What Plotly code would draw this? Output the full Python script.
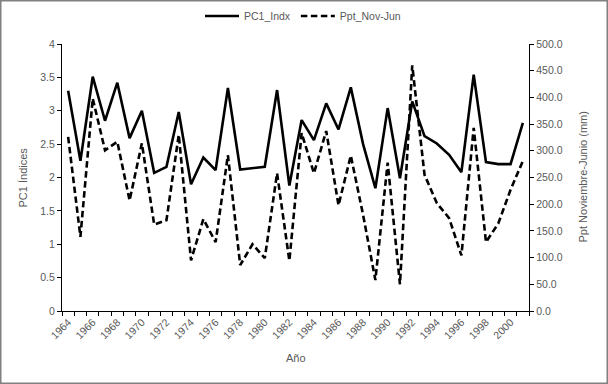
import plotly.graph_objects as go

years = list(range(1964, 2002))
pc1_indx = [3.30, 2.25, 3.51, 2.85, 3.42, 2.59, 3.00, 2.07, 2.16, 2.98,
            1.90, 2.30, 2.11, 3.34, 2.12, 2.14, 2.16, 3.31, 1.88, 2.86,
            2.56, 3.11, 2.72, 3.35, 2.50, 1.84, 3.04, 1.99, 3.14, 2.62,
            2.51, 2.34, 2.08, 3.54, 2.23, 2.20, 2.20, 2.82]
ppt_nov_jun = [326, 139, 398, 301, 317, 207, 314, 162, 170, 330,
               95, 172, 129, 292, 86, 125, 99, 258, 94, 333,
               258, 337, 198, 291, 180, 58, 278, 50, 460, 255,
               202, 174, 104, 343, 129, 164, 227, 281]
x_ticks = list(range(1964, 2001, 2))
left_ticks = [0, 0.5, 1, 1.5, 2, 2.5, 3, 3.5, 4]
right_ticks = [0, 50, 100, 150, 200, 250, 300, 350, 400, 450, 500]

W, H = 608, 384
L, R, T, B = 62, 529, 44, 311
pw, ph = R - L, B - T

def px(x):
    return (x - L) / pw

def py(y):
    return (B - y) / ph

gray = "#595959"
font = "Liberation Sans, Arial, sans-serif"

fig = go.Figure()
fig.add_trace(go.Scatter(x=years, y=pc1_indx, name="PC1_Indx", mode="lines",
                         line=dict(color="black", width=2.6), yaxis="y"))
fig.add_trace(go.Scatter(x=years, y=ppt_nov_jun, name="Ppt_Nov-Jun", mode="lines",
                         line=dict(color="black", width=2.6, dash="6.5px,3.5px"), yaxis="y2"))

fig.update_layout(
    template="none",
    width=W, height=H,
    margin=dict(l=L, r=W - R, t=T, b=H - B, pad=0, autoexpand=False),
    paper_bgcolor="white", plot_bgcolor="white",
    font=dict(family=font, color=gray, size=10.5),
    showlegend=True,
    legend=dict(orientation="h", xref="container", yref="container",
                x=303 / W, xanchor="center", y=1 - 16 / H, yanchor="middle",
                font=dict(size=10.5, color=gray), itemwidth=34, bgcolor="rgba(0,0,0,0)"),
    xaxis=dict(range=[1963.5, 2001.5], tickmode="array", tickvals=x_ticks,
               ticktext=[str(v) for v in x_ticks], tickangle=-45, ticks="",
               showline=True, linecolor="black", linewidth=1.3, showgrid=False,
               zeroline=False, automargin=False, tickfont=dict(size=10.5, color=gray),
               minor=dict(tickmode="array", tickvals=[y - 0.5 for y in range(1964, 2003)],
                          ticks="outside", ticklen=4, tickcolor="black", tickwidth=1.3,
                          showgrid=False)),
    yaxis=dict(range=[0, 4], tickmode="array", tickvals=left_ticks,
               ticktext=[("%g" % v) for v in left_ticks],
               ticks="outside", ticklen=4, tickcolor="black", tickwidth=1.3,
               showline=True, linecolor="black", linewidth=1.3, showgrid=False,
               zeroline=False, automargin=False, tickfont=dict(size=10.5, color=gray)),
    yaxis2=dict(range=[0, 500], tickmode="array", tickvals=right_ticks,
                ticktext=["%.1f" % v for v in right_ticks],
                overlaying="y", side="right", anchor="x",
                ticks="outside", ticklen=4, tickcolor="black", tickwidth=1.3,
                showline=True, linecolor="black", linewidth=1.3, showgrid=False,
                zeroline=False, automargin=False, tickfont=dict(size=10.5, color=gray)),
    annotations=[
        dict(text="PC1 Índices", xref="paper", yref="paper", x=px(22), y=0.5,
             textangle=-90, showarrow=False, font=dict(size=11, color=gray),
             xanchor="center", yanchor="middle"),
        dict(text="Ppt Noviembre-Junio (mm)", xref="paper", yref="paper", x=px(582), y=0.5,
             textangle=-90, showarrow=False, font=dict(size=11, color=gray),
             xanchor="center", yanchor="middle"),
        dict(text="Año", xref="paper", yref="paper", x=0.5, y=py(358),
             showarrow=False, font=dict(size=11, color=gray),
             xanchor="center", yanchor="middle"),
    ],
    shapes=[dict(type="rect", xref="paper", yref="paper",
                 x0=px(0.75), x1=px(607.25), y0=py(383.25), y1=py(0.75),
                 line=dict(color="#808080", width=1.5), layer="above")],
)

fig.write_html("out.html", config={"displayModeBar": False},
               post_script="document.body.style.margin='0';document.body.style.overflow='hidden';")
